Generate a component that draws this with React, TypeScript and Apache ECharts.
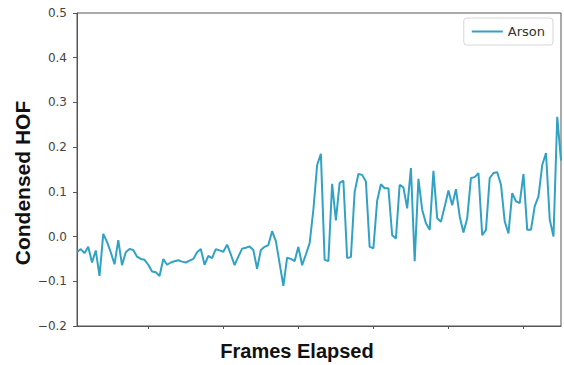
import React, { useEffect, useRef } from "react";
import * as echarts from "echarts";

const hof: number[] = [
  -0.035, -0.028, -0.037, -0.023, -0.058, -0.031, -0.088, 0.006, -0.012, -0.035,
  -0.062, -0.008, -0.064, -0.035, -0.028, -0.03, -0.045, -0.05, -0.052, -0.063,
  -0.078, -0.08, -0.088, -0.05, -0.063, -0.058, -0.055, -0.053, -0.056, -0.058,
  -0.054, -0.05, -0.035, -0.028, -0.063, -0.043, -0.048, -0.028, -0.031, -0.034,
  -0.018, -0.04, -0.064, -0.045, -0.027, -0.025, -0.022, -0.03, -0.072, -0.03,
  -0.023, -0.019, 0.012, -0.01, -0.06, -0.11, -0.047, -0.05, -0.055, -0.023,
  -0.064, -0.04, -0.015, 0.06, 0.16, 0.185, -0.052, -0.055, 0.118, 0.036,
  0.12, 0.125, -0.048, -0.046, 0.1, 0.14, 0.138, 0.123, -0.023, -0.026,
  0.08, 0.117, 0.108, 0.108, 0.003, -0.004, 0.116, 0.11, 0.063, 0.153,
  -0.055, 0.129, 0.06, 0.03, 0.015, 0.147, 0.041, 0.033, 0.067, 0.103,
  0.07, 0.106, 0.045, 0.009, 0.041, 0.131, 0.133, 0.142, 0.003, 0.015,
  0.131, 0.142, 0.144, 0.116, 0.034, 0.007, 0.097, 0.079, 0.075, 0.14,
  0.015, 0.015, 0.068, 0.09, 0.16, 0.187, 0.038, 0.0, 0.268, 0.17,
];
const frames: string[] = hof.map((_, i) => String(i + 1));
const xTickFrames = [20, 40, 60, 80, 100, 120];
const seriesName = "Arson";
const xTitle = "Frames Elapsed";
const yTitle = "Condensed HOF";

export default function App() {
  const ref = useRef<HTMLDivElement>(null);
  useEffect(() => {
    if (!ref.current) return;
    const chart = echarts.init(ref.current, null, { renderer: "svg" });
    const axisColor = "#555";
    chart.setOption({
      animation: false,
      backgroundColor: "#fff",
      grid: {
        left: 77,
        right: 3,
        top: 13,
        bottom: 39,
        show: true,
        borderColor: axisColor,
        borderWidth: 1,
      },
      legend: {
        data: [{ name: seriesName, icon: "rect" }],
        right: 11,
        top: 18,
        itemWidth: 31,
        itemHeight: 2,
        itemGap: 10,
        padding: [7, 8],
        borderColor: "#d6d6d6",
        borderWidth: 1,
        borderRadius: 3,
        textStyle: { fontSize: 13, color: "#333", fontFamily: "DejaVu Sans" },
      },
      xAxis: {
        type: "category",
        data: frames,
        boundaryGap: false,
        axisLine: { show: true, onZero: false, lineStyle: { color: axisColor } },
        axisTick: {
          show: true,
          length: 3,
          interval: (index: number) => xTickFrames.includes(index + 1),
          lineStyle: { color: axisColor },
        },
        axisLabel: { show: false },
        splitLine: { show: false },
      },
      yAxis: {
        type: "value",
        min: -0.2,
        max: 0.5,
        interval: 0.1,
        axisLine: { show: true, lineStyle: { color: axisColor } },
        axisTick: { show: true, length: 4, lineStyle: { color: axisColor } },
        axisLabel: {
          margin: 10,
          fontSize: 12,
          color: "#444",
          fontFamily: "DejaVu Sans",
          formatter: (v: number) => {
            const r = Math.round(v * 10) / 10;
            return (r < 0 ? "\u2212" : "") + Math.abs(r).toFixed(1);
          },
        },
        splitLine: { show: false },
      },
      graphic: [
        {
          type: "text",
          x: 297,
          y: 351,
          style: {
            text: xTitle,
            fontSize: 20,
            fontWeight: "bold",
            fontFamily: "Liberation Sans",
            fill: "#111",
            align: "center",
            verticalAlign: "middle",
          },
        },
        {
          type: "text",
          x: 22,
          y: 183,
          rotation: Math.PI / 2,
          style: {
            text: yTitle,
            fontSize: 21,
            fontWeight: "bold",
            fontFamily: "Liberation Sans",
            fill: "#111",
            align: "center",
            verticalAlign: "middle",
          },
        },
      ],
      series: [
        {
          name: seriesName,
          type: "line",
          data: hof,
          showSymbol: false,
          color: "#32a2c4",
          lineStyle: { width: 2, color: "#32a2c4" },
        },
      ],
    });
    return () => chart.dispose();
  }, []);
  return (
    <div
      ref={ref}
      style={{ position: "fixed", left: 0, top: 0, width: 564, height: 365 }}
    />
  );
}
